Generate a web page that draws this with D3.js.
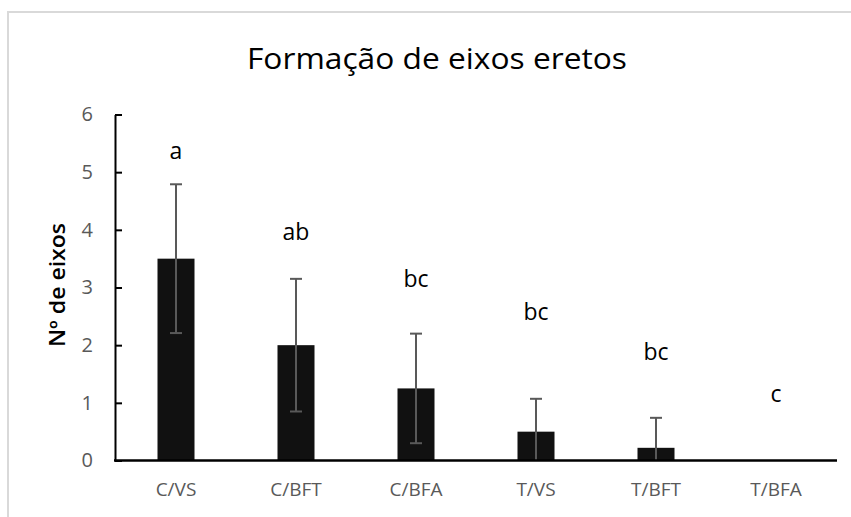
<!DOCTYPE html>
<html>
<head>
<meta charset="utf-8">
<script src="https://cdn.jsdelivr.net/npm/d3@7/dist/d3.min.js"></script>
<style>
  html, body { margin: 0; padding: 0; background: #fff; }
  svg { display: block; }
</style>
</head>
<body>
<script>
// Treatments, mean number of erect shoots, standard error and significance letters
const categories = ["C/VS", "C/BFT", "C/BFA", "T/VS", "T/BFT", "T/BFA"];
const means      = [3.5, 2.0, 1.25, 0.5, 0.22, 0];
const errors     = [1.29, 1.15, 0.95, 0.57, 0.52, 0];
const letters    = ["a", "ab", "bc", "bc", "bc", "c"];
const letterAt   = [5.23, 3.82, 3.01, 2.44, 1.75, 1.02];
const yTicks     = [0, 1, 2, 3, 4, 5, 6];

const W = 851, H = 517;
const font = "'Open Sans', 'Noto Sans', sans-serif";

const svg = d3.select("body").append("svg")
  .attr("width", W).attr("height", H);

// chart frame
svg.append("rect")
  .attr("x", 8).attr("y", 12)
  .attr("width", W + 20).attr("height", H + 20)
  .attr("fill", "none").attr("stroke", "#d9d9d9").attr("stroke-width", 2);

const x = d3.scaleBand()
  .domain(categories)
  .range([116, 836])
  .paddingInner(0.7)
  .paddingOuter(0.35);

const y = d3.scaleLinear().domain([0, 6]).range([460.5, 114.5]);

// title
svg.append("text")
  .attr("x", 437).attr("y", 69)
  .attr("text-anchor", "middle")
  .attr("font-family", font).attr("font-size", 29)
  .attr("fill", "#000")
  .attr("textLength", 380).attr("lengthAdjust", "spacingAndGlyphs")
  .text("Formação de eixos eretos");

// y axis
const yAxis = d3.axisLeft(y)
  .tickValues(yTicks)
  .tickFormat(d3.format("d"))
  .tickSizeInner(-7)
  .tickSizeOuter(0)
  .tickPadding(22);

const gy = svg.append("g")
  .attr("transform", "translate(115,0)")
  .call(yAxis);
gy.select(".domain").attr("stroke", "#000").attr("stroke-width", 2);
gy.selectAll(".tick line").attr("stroke", "#000").attr("stroke-width", 2);
gy.selectAll(".tick text")
  .attr("font-family", font).attr("font-size", 20)
  .attr("fill", "#595959");

// y axis title
svg.append("text")
  .attr("transform", "translate(65,285) rotate(-90)")
  .attr("text-anchor", "middle")
  .attr("font-family", font).attr("font-size", 21).attr("font-weight", 600)
  .attr("fill", "#000")
  .attr("textLength", 124).attr("lengthAdjust", "spacingAndGlyphs")
  .text("Nº de eixos");

const rows = categories.map((c, i) => ({
  cat: c, mean: means[i], err: errors[i], letter: letters[i], ly: letterAt[i]
}));

// bars
svg.append("g").selectAll("rect")
  .data(rows.filter(d => d.mean > 0))
  .join("rect")
  .attr("x", d => x(d.cat) - 0.5)
  .attr("width", x.bandwidth() + 1)
  .attr("y", d => y(d.mean))
  .attr("height", d => y(0) - y(d.mean))
  .attr("fill", "#111");

// error bars
const eb = svg.append("g").attr("stroke", "#595959").attr("stroke-width", 2);
rows.filter(d => d.err > 0).forEach(d => {
  const cx = x(d.cat) + x.bandwidth() / 2;
  const hi = d.mean + d.err;
  const lo = Math.max(0, d.mean - d.err);
  eb.append("line").attr("x1", cx).attr("x2", cx).attr("y1", y(hi)).attr("y2", y(lo));
  eb.append("line").attr("x1", cx - 6).attr("x2", cx + 6).attr("y1", y(hi)).attr("y2", y(hi));
  if (d.mean - d.err > 0) {
    eb.append("line").attr("x1", cx - 6).attr("x2", cx + 6).attr("y1", y(lo)).attr("y2", y(lo));
  }
});

// baseline (category axis)
const xAxis = d3.axisBottom(x).tickSize(0).tickPadding(22);
const gx = svg.append("g")
  .attr("transform", `translate(0,${y(0)})`)
  .call(xAxis);
gx.select(".domain").attr("d", "M114,0H837").attr("stroke", "#000").attr("stroke-width", 2.5);
gx.selectAll(".tick text")
  .attr("font-family", font).attr("font-size", 19)
  .attr("fill", "#595959");

// significance letters
svg.append("g").selectAll("text")
  .data(rows)
  .join("text")
  .attr("x", d => x(d.cat) + x.bandwidth() / 2)
  .attr("y", d => y(d.ly))
  .attr("text-anchor", "middle")
  .attr("font-family", font).attr("font-size", 23)
  .attr("fill", "#000")
  .text(d => d.letter);
</script>
</body>
</html>
